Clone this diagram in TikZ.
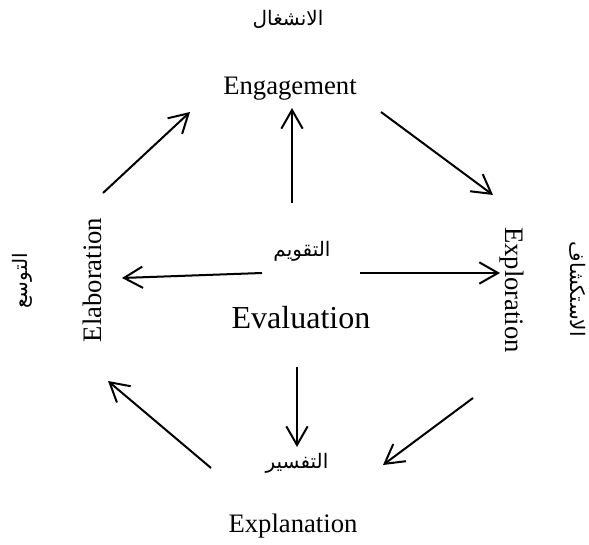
\documentclass[tikz,border=0pt]{standalone}
\usepackage{fontspec}
\setmainfont{Liberation Serif}
\newfontfamily\arabicfont[Script=Arabic]{DejaVu Sans}
\TeXXeTstate=1
\usetikzlibrary{arrows.meta}
\definecolor{ink}{HTML}{000000}

\begin{document}
\begin{tikzpicture}[x=0.75pt,y=-0.75pt,>={Straight Barb[length=14pt,width=16pt]},
  stage/.style={text=ink,inner sep=0pt,font=\fontsize{20}{24}\selectfont},
  arab/.style={text=ink,inner sep=0pt,font=\arabicfont\fontsize{15}{18}\selectfont},
  arr/.style={->,line width=1.5pt,ink}]
\useasboundingbox (0,0) rectangle (589,545);
% stage names
\node[stage] (eng) at (290,89) {Engagement};
\node[stage,rotate=-90] (explo) at (512,290) {Exploration};
\node[stage,rotate=90] (elab) at (92,280) {Elaboration};
\node[stage] (expla) at (293,526) {Explanation};
\node[stage,font=\fontsize{24}{28}\selectfont] (eval) at (301,318) {Evaluation};
% arabic names
\node[arab] (engar) at (288,19) {\beginR الانشغال\endR};
\node[arab,rotate=-90] (exploar) at (578,289) {\beginR الاستكشاف\endR};
\node[arab,rotate=90] (elabar) at (22,281) {\beginR التوسع\endR};
\node[arab] (evalar) at (302,251) {\beginR التقويم\endR};
\node[arab] (explaar) at (297,463) {\beginR التفسير\endR};
% arrow ends
\coordinate (c1s) at (381,112); \coordinate (c1e) at (493,195);
\coordinate (c2s) at (473,398); \coordinate (c2e) at (383,465);
\coordinate (c3s) at (211,468); \coordinate (c3e) at (108,381);
\coordinate (c4s) at (103,193); \coordinate (c4e) at (190,112);
\coordinate (up) at (292,108); \coordinate (ups) at (292,203);
\coordinate (lf) at (122,278); \coordinate (lfs) at (262,273);
\coordinate (rt) at (500,273); \coordinate (rts) at (360,273);
\coordinate (dn) at (297,447); \coordinate (dns) at (297,367);
% cycle
\draw[arr] (c1s)--(c1e);
\draw[arr] (c2s)--(c2e);
\draw[arr] (c3s)--(c3e);
\draw[arr] (c4s)--(c4e);
% from the centre
\draw[arr] (ups)--(up);
\draw[arr] (lfs)--(lf);
\draw[arr] (rts)--(rt);
\draw[arr] (dns)--(dn);
\end{tikzpicture}
\end{document}
